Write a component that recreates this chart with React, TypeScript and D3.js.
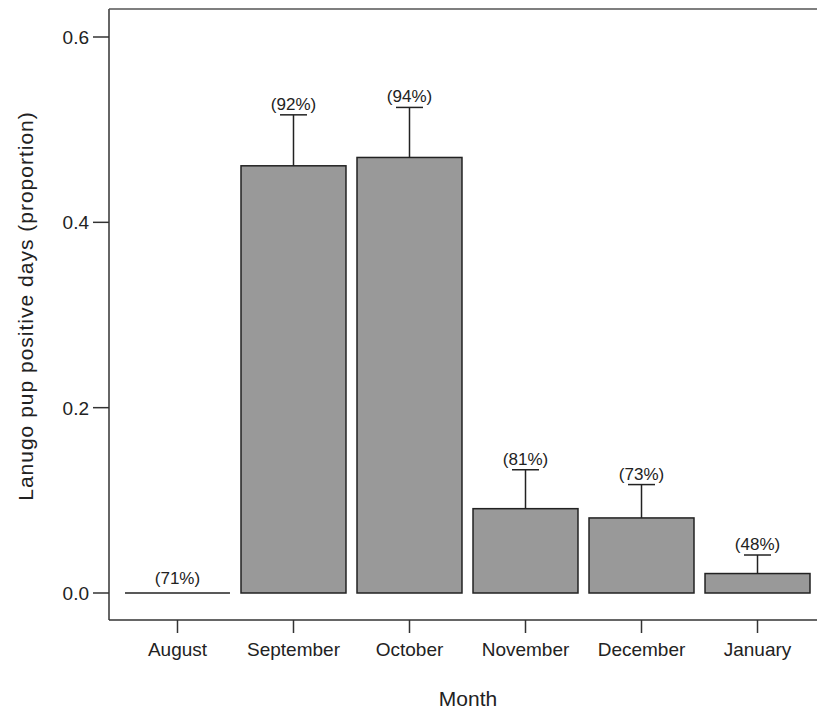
import React from 'react';
import * as d3 from 'd3';

const months = ['August', 'September', 'October', 'November', 'December', 'January'];
const proportions = [0, 0.461, 0.47, 0.091, 0.081, 0.021];
const upperErrors = [0, 0.516, 0.524, 0.133, 0.117, 0.041];
const percentLabels = ['(71%)', '(92%)', '(94%)', '(81%)', '(73%)', '(48%)'];
const yTicks = [0, 0.2, 0.4, 0.6];

const width = 817;
const height = 713;
const plotLeft = 109;
const plotTop = 9;
const plotBottom = 620;
const font = '"Liberation Sans", Arial, sans-serif';

const App: React.FC = () => {
  const x = d3.scaleBand<string>().domain(months).range([125, 810]).paddingInner(0.095).paddingOuter(0);
  const y = d3.scaleLinear().domain([0, 0.6]).range([593, 37]);
  const bw = x.bandwidth();
  const capHalf = 13.5;

  return (
    <svg width={width} height={height} style={{ position: 'absolute', left: 0, top: 0, background: '#fff' }}>
      {/* plot frame */}
      <line x1={plotLeft} y1={plotTop} x2={plotLeft} y2={plotBottom} stroke="#333" strokeWidth={1.5} />
      <line x1={plotLeft} y1={plotTop} x2={width} y2={plotTop} stroke="#555" strokeWidth={1.5} />
      <line x1={plotLeft} y1={plotBottom} x2={width} y2={plotBottom} stroke="#333" strokeWidth={1.5} />

      {/* y axis */}
      {yTicks.map((t) => (
        <g key={t}>
          <line x1={93} x2={plotLeft} y1={y(t)} y2={y(t)} stroke="#333" strokeWidth={1.5} />
          <text x={89} y={y(t) + 7} textAnchor="end" fontFamily={font} fontSize={19} fill="#222">
            {d3.format('.1f')(t)}
          </text>
        </g>
      ))}

      {/* x axis */}
      {months.map((m) => {
        const cx = (x(m) || 0) + bw / 2;
        return (
          <g key={m}>
            <line x1={cx} x2={cx} y1={plotBottom} y2={633} stroke="#333" strokeWidth={1.5} />
            <text x={cx} y={656} textAnchor="middle" fontFamily={font} fontSize={19} fill="#222">
              {m}
            </text>
          </g>
        );
      })}

      {/* bars, error bars, labels */}
      {months.map((m, i) => {
        const x0 = x(m) || 0;
        const cx = x0 + bw / 2;
        const v = proportions[i];
        const e = upperErrors[i];
        return (
          <g key={m}>
            {v > 0 ? (
              <rect x={x0} y={y(v)} width={bw} height={y(0) - y(v)} fill="#999" stroke="#222" strokeWidth={1.5} />
            ) : (
              <line x1={x0} x2={x0 + bw} y1={y(0)} y2={y(0)} stroke="#222" strokeWidth={1.5} />
            )}
            {e > v && (
              <g stroke="#222" strokeWidth={1.5}>
                <line x1={cx} x2={cx} y1={y(v)} y2={y(e)} />
                <line x1={cx - capHalf} x2={cx + capHalf} y1={y(e)} y2={y(e)} />
              </g>
            )}
            <text x={cx} y={y(e) - (e > v ? 5 : 9)} textAnchor="middle" fontFamily={font} fontSize={17} fill="#222">
              {percentLabels[i]}
            </text>
          </g>
        );
      })}

      {/* axis titles */}
      <text x={468} y={706} textAnchor="middle" fontFamily={font} fontSize={21} fill="#222">
        Month
      </text>
      <text
        transform={`translate(33, 306) rotate(-90)`}
        textAnchor="middle"
        fontFamily={font}
        fontSize={21}
        letterSpacing={1}
        fill="#222"
      >
        Lanugo pup positive days (proportion)
      </text>
    </svg>
  );
};

export default App;
